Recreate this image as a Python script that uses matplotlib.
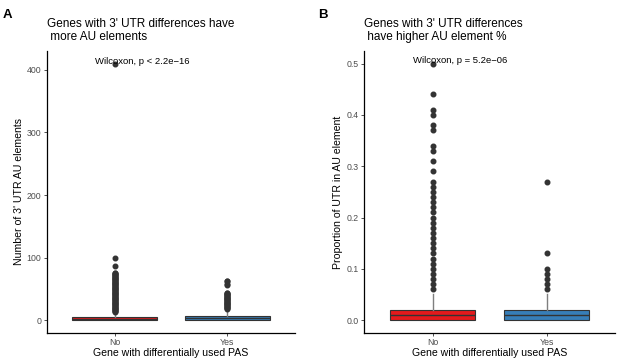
import matplotlib.pyplot as plt

plt.rcParams['font.family'] = ['Liberation Sans', 'DejaVu Sans']

groups = ['No', 'Yes']
fill_colors = ['#E41A1C', '#377EB8']

# panel A: number of 3' UTR AU elements (box stats)
a_q1 = [0, 0]
a_med = [2, 3]
a_q3 = [5, 7]
a_whislo = [0, 0]
a_whishi = [12, 17]
a_fliers_no = [13, 14, 15, 16, 17, 18, 19, 20, 21, 22, 23, 24, 25, 26, 27, 28,
               29, 30, 31, 32, 33, 34, 35, 36, 37, 38, 39, 40, 41, 42, 43, 44,
               45, 46, 47, 48, 49, 50, 51, 52, 53, 54, 55, 56, 57, 58, 59, 60,
               61, 62, 63, 64, 65, 66, 67, 68, 69, 70, 71, 72, 73, 74, 75, 76,
               86, 100, 410]
a_fliers_yes = [18, 19, 20, 21, 22, 23, 24, 25, 26, 27, 28, 29, 30, 31, 32, 33,
                34, 35, 36, 37, 38, 39, 40, 41, 42, 43, 44, 56, 58, 62, 63]

# panel B: proportion of UTR in AU element
b_q1 = [0.0, 0.0]
b_med = [0.01, 0.01]
b_q3 = [0.02, 0.02]
b_whislo = [0.0, 0.0]
b_whishi = [0.05, 0.05]
b_fliers_no = [0.06, 0.07, 0.08, 0.09, 0.10, 0.11, 0.12, 0.13, 0.14, 0.15, 0.16,
               0.17, 0.18, 0.19, 0.20, 0.21, 0.22, 0.23, 0.24, 0.25, 0.26, 0.27,
               0.29, 0.31, 0.33, 0.34, 0.37, 0.38, 0.40, 0.41, 0.44, 0.50]
b_fliers_yes = [0.06, 0.07, 0.08, 0.09, 0.10, 0.13, 0.27]

a_title = "Genes with 3' UTR differences have\n more AU elements"
b_title = "Genes with 3' UTR differences\n have higher AU element %"
a_ylabel = "Number of 3' UTR AU elements"
b_ylabel = "Proportion of UTR in AU element"
xlabel = "Gene with differentially used PAS"
a_test = "Wilcoxon, p < 2.2e\u221216"
b_test = "Wilcoxon, p = 5.2e\u221206"
a_yticks = [0, 100, 200, 300, 400]
b_yticks = [0.0, 0.1, 0.2, 0.3, 0.4, 0.5]


def make_stats(q1, med, q3, lo, hi, fliers):
    stats = []
    for i in range(len(q1)):
        stats.append(dict(q1=q1[i], med=med[i], q3=q3[i], whislo=lo[i],
                          whishi=hi[i], fliers=fliers[i], label=groups[i]))
    return stats


def draw_panel(ax, stats, ylim, yticks, ytlabels, title, ylabel, test, test_y):
    bp = ax.bxp(stats, positions=[1, 2], widths=0.75, patch_artist=True,
                showcaps=False,
                boxprops=dict(edgecolor='#333333', linewidth=0.8),
                medianprops=dict(color='#333333', linewidth=1.0),
                whiskerprops=dict(color='#7f7f7f', linewidth=1.0),
                flierprops=dict(marker='o', markersize=3.3,
                                markerfacecolor='#333333',
                                markeredgecolor='#333333'))
    for patch, c in zip(bp['boxes'], fill_colors):
        patch.set_facecolor(c)
    # draw outliers on top of the whiskers
    for fl in bp['fliers']:
        fl.set_zorder(3)
    ax.set_xlim(0.4, 2.6)
    ax.set_ylim(*ylim)
    ax.set_xticks([1, 2])
    ax.set_xticklabels(groups)
    ax.set_yticks(yticks)
    ax.set_yticklabels(ytlabels)
    ax.spines['top'].set_visible(False)
    ax.spines['right'].set_visible(False)
    ax.spines['left'].set_linewidth(0.9)
    ax.spines['bottom'].set_linewidth(0.9)
    ax.tick_params(labelsize=6.3, colors='#333333', labelcolor='#4d4d4d',
                   length=2.5, width=0.6, pad=1.5)
    ax.set_xlabel(xlabel, fontsize=7.6, labelpad=0.5)
    ax.set_ylabel(ylabel, fontsize=7.6, labelpad=2)
    ax.set_title(title, fontsize=8.5, loc='left', pad=8, linespacing=1.05)
    ax.text(0.83, test_y, test, fontsize=6.8, ha='left', va='center')


fig = plt.figure(figsize=(6.17, 3.58), dpi=100)
ax_a = fig.add_axes([0.076, 0.070, 0.402, 0.788])
ax_b = fig.add_axes([0.590, 0.070, 0.407, 0.788])

draw_panel(ax_a, make_stats(a_q1, a_med, a_q3, a_whislo, a_whishi,
                            [a_fliers_no, a_fliers_yes]),
           (-20.5, 430.5), a_yticks, [str(t) for t in a_yticks],
           a_title, a_ylabel, a_test, 414)
draw_panel(ax_b, make_stats(b_q1, b_med, b_q3, b_whislo, b_whishi,
                            [b_fliers_no, b_fliers_yes]),
           (-0.025, 0.525), b_yticks, ['%.1f' % t for t in b_yticks],
           b_title, b_ylabel, b_test, 0.506)

fig.text(0.005, 0.975, 'A', fontsize=9.5, fontweight='bold', va='top')
fig.text(0.515, 0.975, 'B', fontsize=9.5, fontweight='bold', va='top')

fig.savefig('out.png', dpi=100)
